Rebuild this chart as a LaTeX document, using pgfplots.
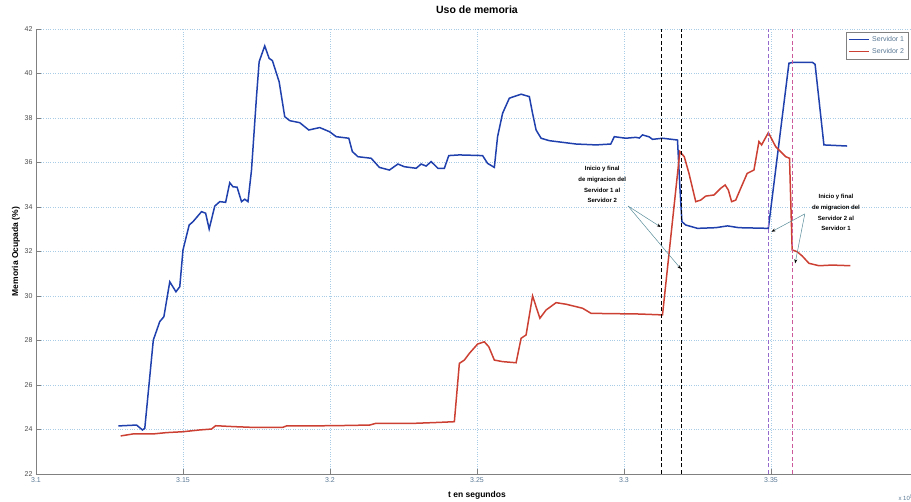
\documentclass[border=0pt]{standalone}
\usepackage{fontspec}
\setmainfont{Liberation Sans}
\usepackage{pgfplots}
\pgfplotsset{compat=1.18}
\usepackage{pgfplotstable}
\usetikzlibrary{arrows.meta}

\definecolor{sone}{rgb}{0.12,0.25,0.68}
\definecolor{stwo}{rgb}{0.80,0.25,0.20}
\definecolor{gridc}{rgb}{0.66,0.80,0.90}
\definecolor{tickc}{rgb}{0.35,0.47,0.58}
\definecolor{axc}{rgb}{0.5,0.5,0.5}
\definecolor{vio}{rgb}{0.58,0.42,0.80}
\definecolor{mag}{rgb}{0.80,0.35,0.60}
\definecolor{arrc}{rgb}{0.35,0.55,0.60}

\pgfplotstableread{
x y
3.1280 24.16
3.1342 24.20
3.1362 23.98
3.1370 24.05
3.1399 28.02
3.1421 28.85
3.1435 29.07
3.1455 30.64
3.1476 30.19
3.1489 30.42
3.1500 32.07
3.1521 33.19
3.1534 33.34
3.1563 33.79
3.1577 33.72
3.1589 33.01
3.1608 34.04
3.1625 34.24
3.1645 34.21
3.1659 35.09
3.1670 34.91
3.1684 34.89
3.1699 34.24
3.1710 34.35
3.1721 34.24
3.1733 35.66
3.1750 38.96
3.1759 40.53
3.1778 41.24
3.1793 40.68
3.1804 40.58
3.1827 39.63
3.1846 38.06
3.1863 37.88
3.1897 37.79
3.1928 37.46
3.1965 37.57
3.1999 37.38
3.2021 37.16
3.2064 37.09
3.2076 36.49
3.2095 36.26
3.2140 36.19
3.2168 35.78
3.2202 35.66
3.2231 35.93
3.2253 35.81
3.2293 35.74
3.2310 35.93
3.2327 35.84
3.2344 36.04
3.2367 35.74
3.2389 35.74
3.2404 36.31
3.2440 36.34
3.2519 36.31
3.2536 35.96
3.2559 35.78
3.2570 37.16
3.2587 38.21
3.2610 38.89
3.2650 39.07
3.2678 38.96
3.2689 38.21
3.2701 37.46
3.2718 37.09
3.2746 36.98
3.2837 36.83
3.2905 36.79
3.2955 36.83
3.2967 37.16
3.3006 37.09
3.3040 37.13
3.3052 37.10
3.3063 37.24
3.3086 37.15
3.3097 37.04
3.3131 37.09
3.3182 37.01
3.3190 34.91
3.3197 33.34
3.3210 33.19
3.3250 33.04
3.3312 33.07
3.3352 33.15
3.3391 33.07
3.3491 33.04
3.3561 40.46
3.3573 40.50
3.3641 40.50
3.3650 40.41
3.3680 36.79
3.3759 36.74
}\servone

\pgfplotstableread{
x y
3.1288 23.71
3.1330 23.80
3.1398 23.80
3.1444 23.86
3.1500 23.90
3.1557 23.98
3.1597 24.02
3.1611 24.17
3.1670 24.13
3.1727 24.10
3.1840 24.10
3.1852 24.16
3.2010 24.17
3.2135 24.20
3.2157 24.28
3.2293 24.28
3.2372 24.32
3.2423 24.35
3.2440 26.97
3.2457 27.12
3.2474 27.42
3.2502 27.84
3.2525 27.94
3.2540 27.72
3.2559 27.12
3.2587 27.05
3.2633 27.00
3.2650 28.10
3.2667 28.25
3.2689 30.00
3.2701 29.52
3.2714 29.00
3.2735 29.37
3.2769 29.70
3.2803 29.63
3.2859 29.45
3.2888 29.22
3.3052 29.19
3.3131 29.15
3.3190 36.49
3.3205 36.26
3.3221 35.51
3.3244 34.24
3.3261 34.31
3.3278 34.49
3.3306 34.54
3.3329 34.84
3.3344 34.99
3.3355 34.76
3.3366 34.24
3.3380 34.31
3.3397 34.84
3.3419 35.51
3.3442 35.66
3.3459 36.94
3.3468 36.79
3.3491 37.34
3.3516 36.71
3.3550 36.26
3.3563 36.19
3.3572 32.07
3.3589 31.99
3.3606 31.80
3.3629 31.47
3.3663 31.36
3.3708 31.39
3.3770 31.36
}\servtwo

\begin{document}
\begin{tikzpicture}
\begin{axis}[
  at={(36pt,28pt)}, anchor=south west,
  width=882pt, height=445pt, scale only axis,
  xmin=3.1, xmax=3.4, ymin=22, ymax=42,
  xtick={3.1,3.15,3.2,3.25,3.3,3.35,3.4},
  xticklabels={3.1,3.15,3.2,3.25,3.3,3.35,3.4},
  ytick={22,24,26,28,30,32,34,36,38,40,42},
  scaled x ticks=false,
  /pgf/number format/assume math mode=true,
  axis lines*=left,
  axis line style={axc, line width=0.8pt},
  tick align=inside,
  major tick length=5pt,
  tick style={axc, line width=0.6pt},
  grid=major,
  major grid style={gridc, line width=0.7pt, dash pattern=on 0.8pt off 1.6pt},
  ticklabel style={font=\fontsize{7}{8}\selectfont},
  xticklabel style={text=tickc},
  yticklabel style={text=black!70},
  every axis title shift=0pt,
  title={Uso de memoria},
  title style={font=\fontsize{10.5}{12}\selectfont\bfseries, at={(0.5,1.0427)}, anchor=center},
  xlabel={t en segundos},
  xlabel style={font=\fontsize{8.5}{10}\selectfont\bfseries, at={(0.5,-0.0472)}, anchor=center},
  ylabel={Memoria Ocupada (\%)},
  ylabel style={font=\fontsize{8.5}{10}\selectfont\bfseries, at={(-0.0227,0.5)}, anchor=center},
  legend style={at={(0.989,0.993)}, anchor=north east, draw=axc, fill=white,
    font=\fontsize{7}{8}\selectfont, row sep=1.5pt, inner sep=2pt},
  legend cell align=left,
]
\addplot[sone, line width=1.5pt,
  legend image code/.code={\draw[sone, line width=1.5pt] (0pt,0pt) -- (20pt,0pt);}] table[x=x,y=y] {\servone};
\addlegendentry{\textcolor{tickc}{Servidor 1}}
\addplot[stwo, line width=1.5pt,
  legend image code/.code={\draw[stwo, line width=1.5pt] (0pt,0pt) -- (20pt,0pt);}] table[x=x,y=y] {\servtwo};
\addlegendentry{\textcolor{tickc}{Servidor 2}}

\addplot[black, line width=1pt, dash pattern=on 4pt off 2.5pt, forget plot] coordinates {(3.3129,22) (3.3129,42)};
\addplot[black, line width=1pt, dash pattern=on 4pt off 2.5pt, forget plot] coordinates {(3.3197,22) (3.3197,42)};
\addplot[vio, line width=1pt, dash pattern=on 4pt off 2.5pt, forget plot] coordinates {(3.3491,22) (3.3491,42)};
\addplot[mag, line width=1pt, dash pattern=on 4pt off 2.5pt, forget plot] coordinates {(3.3572,22) (3.3572,42)};

\node[font=\fontsize{6}{10.7}\selectfont\bfseries, align=center] at (axis cs:3.2926,35.01)
  {Inicio y final\\de migracion del\\Servidor 1 al\\Servidor 2};
\draw[arrc, line width=0.5pt, -{Stealth[black, length=4pt, width=3pt]}] (axis cs:3.3014,34.04) -- (axis cs:3.3125,33.1);
\draw[arrc, line width=0.5pt, -{Stealth[black, length=4pt, width=3pt]}] (axis cs:3.3014,34.04) -- (axis cs:3.3194,31.21);

\node[font=\fontsize{6}{10.7}\selectfont\bfseries, align=center] at (axis cs:3.3721,33.74)
  {Inicio y final\\de migracion del\\Servidor 2 al\\Servidor 1};
\draw[arrc, line width=0.5pt, -{Stealth[black, length=4pt, width=3pt]}] (axis cs:3.3615,33.69) -- (axis cs:3.3502,32.89);
\draw[arrc, line width=0.5pt, -{Stealth[black, length=4pt, width=3pt]}] (axis cs:3.3615,33.69) -- (axis cs:3.3582,31.47);
\end{axis}
\node[anchor=west, font=\fontsize{6}{7}\selectfont, text=tickc] at (895pt,4pt) {x 10\textsuperscript{5}};
\pgfresetboundingbox
\path[use as bounding box] (0,0) rectangle (911pt,502pt);
\end{tikzpicture}
\end{document}
